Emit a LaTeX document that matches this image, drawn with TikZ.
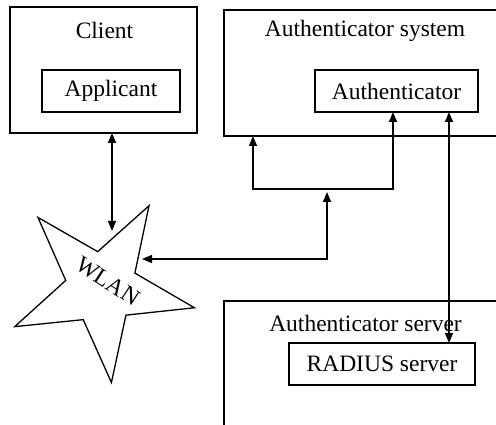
\documentclass[tikz,border=0pt]{standalone}
\usepackage{fontspec}
\setmainfont{Liberation Serif}
\usetikzlibrary{arrows.meta,shapes.geometric}
\begin{document}
\begin{tikzpicture}[x=1pt,y=-1pt,
  every node/.style={inner sep=0pt, outer sep=0pt},
  txt/.style={font=\fontsize{23.5}{27}\selectfont},
  box/.style={draw, line width=1.3pt, rectangle, minimum width=#1},
  tip/.style={Triangle[length=10pt,width=8pt]},
  link/.style={line width=1.3pt, {Triangle[length=10pt,width=8pt]}-{Triangle[length=10pt,width=8pt]}}]
\useasboundingbox (0,0) rectangle (496,425);
\clip (0,0) rectangle (496,425);

% outer boxes (the two on the right run past the page edge)
\node[box=187pt, minimum height=126pt] (client) at (103.5,70) {};
\node[box=300pt, minimum height=126pt] (authsys) at (374,73) {};
\node[box=300pt, minimum height=160pt] (authsrv) at (374,381) {};

% inner boxes
\node[box=138pt, minimum height=42pt, txt] (app) at (111,91) {Applicant};
\node[box=163pt, minimum height=42pt, txt] (auth) at (396.5,91) {Authenticator};
\node[box=186pt, minimum height=42pt, txt] (radius) at (382,364) {RADIUS server};

% box titles
\node[txt] (clientT) at (104.5,30) {Client};
\node[txt] (authsysT) at (365,31) {Authenticator system};
\node[txt] (authsrvT) at (365.5,323) {Authenticator server};

% the WLAN star
\node[star, star points=5, star point ratio=2.6, minimum size=190pt,
      shape border rotate=-30, draw, line width=1.3pt] (wlan) at (101.5,288) {};
\node[txt, rotate=-33] (wlanT) at (108,281) {WLAN};

% connector end points and joints
\coordinate (wt) at (112,231);
\coordinate (wr) at (142,259);
\coordinate (j1) at (253,189);
\coordinate (j2) at (393,189);
\coordinate (j3) at (327,192);
\coordinate (rl) at (449,0);

% connectors
\draw[link] (client.south -| wt) -- (wt);
\draw[link] (authsys.south -| j1) -- (j1) -- (j2) -- (auth.south -| j2);
\draw[link] (wr) -| (j3);
\draw[link] (auth.south -| rl) -- (radius.north -| rl);
\end{tikzpicture}
\end{document}
